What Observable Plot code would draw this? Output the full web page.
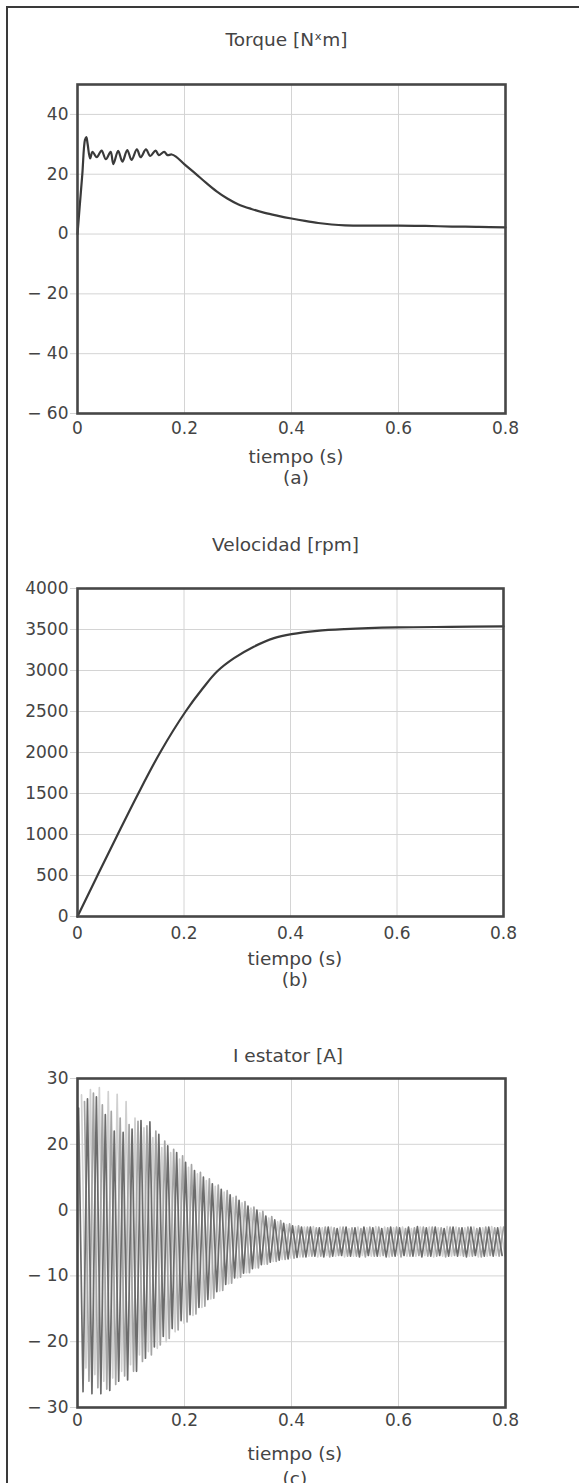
<!DOCTYPE html>
<html><head><meta charset="utf-8">
<script src="https://cdn.jsdelivr.net/npm/d3@7"></script>
<script src="https://cdn.jsdelivr.net/npm/@observablehq/plot@0.6"></script>
<style>
body{margin:0;background:#fff;width:579px;height:1483px;overflow:hidden;position:relative;font-family:"DejaVu Sans",sans-serif;}
#border{position:absolute;left:6px;top:6px;width:700px;height:1700px;border:2px solid #3a3a3a;box-sizing:border-box;}
.panel{position:absolute;left:0;}
</style></head><body>
<div id="border"></div>
<div id="pa" class="panel" style="top:0px"></div>
<div id="pb" class="panel" style="top:500px"></div>
<div id="pc" class="panel" style="top:980px"></div>
<script>
// ---------- data ----------
const xTicks = [0, 0.2, 0.4, 0.6, 0.8];
const xLabel = "tiempo (s)";

// (a) Torque
const torqueTitle = "Torque [Nˣm]";
const torqueTicks = [-60, -40, -20, 0, 20, 40];
const torqueT = [0, 0.004, 0.009, 0.014, 0.0165, 0.019, 0.0236, 0.028, 0.036, 0.045, 0.053, 0.062, 0.067, 0.076, 0.084, 0.093, 0.101, 0.111, 0.118, 0.128, 0.136, 0.146, 0.152, 0.162, 0.168, 0.176, 0.184, 0.2, 0.22, 0.24, 0.26, 0.28, 0.3, 0.325, 0.35, 0.375, 0.4, 0.425, 0.45, 0.475, 0.5, 0.55, 0.6, 0.65, 0.7, 0.75, 0.8];
const torqueV = [0, 9, 20, 31.5, 32.4, 30, 25.3, 27.5, 25.7, 27.9, 25, 27.5, 23.4, 27.8, 24.2, 28.1, 24.8, 28.3, 25.7, 28.3, 26.1, 27.9, 26.4, 27.5, 26.4, 26.6, 25.9, 23.3, 20.3, 17.2, 14.3, 11.9, 10.0, 8.4, 7.1, 6.1, 5.2, 4.4, 3.7, 3.2, 2.9, 2.8, 2.8, 2.7, 2.5, 2.4, 2.2];

// (b) Velocidad
const speedTitle = "Velocidad [rpm]";
const speedTicks = [0, 500, 1000, 1500, 2000, 2500, 3000, 3500, 4000];
const speedT = [0, 0.0375, 0.075, 0.1125, 0.156, 0.203, 0.235, 0.2625, 0.294, 0.331, 0.369, 0.402, 0.45, 0.502, 0.6, 0.7, 0.8];
const speedV = [0, 500, 995, 1480, 2010, 2500, 2780, 2990, 3150, 3290, 3395, 3444, 3484, 3505, 3525, 3532, 3537];

// (c) I estator — labels as printed on the axis (evenly spaced)
const currentTitle = "I estator [A]";
const currentTicks = [-30, -20, -10, 0, 20, 30];
const cyclePeriod = 1 / 60;
// dark trace: per-cycle maxima and minima
const iaMax = [25.5, 26.9, 27.2, 24.5, 22.0, 21.8, 22.3, 23.6, 23.4, 21.5, 19.5, 17.5, 14.5, 12.0, 10.0, 8.0, 6.3, 4.6, 3.0, 1.2, 0.0, -0.9, -1.5, -2.0, -2.4, -2.6, -2.6, -2.7, -2.6, -2.8, -2.6, -2.7, -2.6, -2.7, -2.8, -2.6, -2.7, -2.6, -2.5, -2.7, -2.6, -2.8, -2.6, -2.7, -2.6, -2.7, -2.6, -2.7];
const iaMin = [-27.6, -27.9, -27.9, -27.4, -26.0, -25.8, -24.5, -22.5, -20.8, -19.2, -18.0, -16.8, -15.9, -14.8, -13.6, -12.4, -11.3, -10.3, -9.6, -8.9, -8.3, -7.9, -7.6, -7.4, -7.2, -7.1, -7.0, -7.1, -7.0, -6.9, -7.0, -7.1, -6.9, -7.0, -7.1, -7.0, -6.9, -7.0, -7.1, -7.0, -6.9, -7.0, -7.0, -7.1, -6.9, -7.0, -7.0, -6.9];
// light trace
const ibMax = [27.5, 28.3, 28.6, 28.0, 27.6, 26.5, 24.0, 22.5, 21.0, 19.0, 17.5, 15.5, 13.0, 11.0, 9.0, 7.2, 5.5, 3.8, 2.2, 0.6, -0.4, -1.2, -1.8, -2.2, -2.5, -2.6, -2.5, -2.7, -2.6, -2.6, -2.8, -2.6, -2.7, -2.5, -2.6, -2.7, -2.6, -2.8, -2.6, -2.6, -2.7, -2.5, -2.6, -2.7, -2.6, -2.7, -2.5, -2.6];
const ibMin = [-24.0, -25.0, -26.0, -25.5, -24.5, -23.5, -22.0, -21.5, -21.0, -20.0, -18.5, -17.2, -16.0, -14.8, -13.5, -12.3, -11.2, -10.3, -9.5, -8.8, -8.2, -7.8, -7.5, -7.3, -7.1, -7.0, -7.1, -6.9, -7.0, -7.1, -7.0, -6.9, -7.0, -7.0, -7.1, -6.9, -7.0, -7.0, -6.9, -7.1, -7.0, -7.0, -6.9, -7.0, -7.1, -7.0, -6.9, -7.0];
// medium trace
const icMax = [26.5, 27.8, 26.0, 25.0, 24.0, 23.0, 23.5, 22.8, 22.0, 20.5, 18.5, 16.5, 13.8, 11.5, 9.5, 7.6, 5.9, 4.2, 2.6, 0.9, -0.2, -1.0, -1.6, -2.1, -2.4, -2.6, -2.7, -2.6, -2.7, -2.6, -2.7, -2.8, -2.6, -2.6, -2.7, -2.6, -2.8, -2.7, -2.6, -2.6, -2.7, -2.6, -2.7, -2.6, -2.8, -2.6, -2.7, -2.6];
const icMin = [-26.0, -27.0, -27.2, -26.5, -25.2, -24.5, -23.0, -22.0, -20.5, -19.5, -18.2, -17.0, -15.8, -14.6, -13.4, -12.2, -11.1, -10.2, -9.5, -8.8, -8.2, -7.8, -7.5, -7.3, -7.1, -7.0, -7.0, -7.1, -6.9, -7.0, -7.0, -7.1, -7.0, -6.9, -7.0, -7.1, -7.0, -6.9, -7.0, -7.0, -7.1, -6.9, -7.0, -7.0, -7.1, -6.9, -7.0, -7.0];
const iaStart = 0.002, ibStart = 0.0075, icStart = 0.0131;

// ---------- helpers ----------
const FONT = 17, LFONT = 18.5;
const fmtY = d => d < 0 ? "− " + Math.abs(d) : String(d);
const fmtX = d => d === 0 ? "0" : d.toFixed(1);
const TXT = "#444";
const GRID = "#d4d4d4";

function panel({height, mt, mb, ml, mr, y, yTicks, marks, title, sub, tdx, tdy, ldx, ldy, sdy, xpad}) {
  return Plot.plot({
    width: 579, height,
    marginTop: mt, marginBottom: mb, marginLeft: ml, marginRight: mr,
    style: {fontFamily: "DejaVu Sans", fontSize: FONT + "px", color: TXT, background: "transparent", overflow: "visible"},
    x: {domain: [0, 0.8]},
    y,
    marks: [
      Plot.gridX([0.2, 0.4, 0.6], {stroke: GRID, strokeOpacity: 1, strokeWidth: 1}),
      Plot.gridY(yTicks, {stroke: GRID, strokeOpacity: 1, strokeWidth: 1}),
      Plot.axisY(yTicks, {tickSize: 7, tickPadding: 2, stroke: GRID, strokeOpacity: 1, fill: TXT, tickFormat: fmtY, fontSize: FONT, label: null}),
      Plot.axisX(xTicks, {tickSize: 0, tickPadding: xpad, fill: TXT, tickFormat: fmtX, fontSize: FONT, label: null}),
      ...marks,
      Plot.frame({stroke: "#474747", strokeWidth: 2.6}),
      Plot.text([title], {frameAnchor: "top", lineAnchor: "middle", dx: tdx, dy: tdy, fill: TXT, fontSize: LFONT}),
      Plot.text([xLabel], {frameAnchor: "bottom", lineAnchor: "middle", dx: ldx, dy: ldy, fill: TXT, fontSize: LFONT}),
      Plot.text([sub], {frameAnchor: "bottom", lineAnchor: "middle", dx: ldx, dy: sdy, fill: TXT, fontSize: LFONT})
    ]
  });
}

// (a)
const torqueData = torqueT.map((t, i) => ({t, v: torqueV[i]}));
document.getElementById("pa").append(panel({
  height: 500, mt: 84, mb: 87, ml: 77, mr: 74,
  y: {domain: [-60, 50]}, yTicks: torqueTicks,
  marks: [Plot.line(torqueData, {x: "t", y: "v", stroke: "#3a3a3a", strokeWidth: 2.2, curve: "catmull-rom"})],
  title: torqueTitle, sub: "(a)", tdx: -5, tdy: -44.4, ldx: 4.5, ldy: 43.6, sdy: 64.6, xpad: 8
}));

// (b)
const speedData = speedT.map((t, i) => ({t, v: speedV[i]}));
document.getElementById("pb").append(panel({
  height: 480, mt: 88, mb: 64, ml: 77, mr: 76,
  y: {domain: [0, 4000]}, yTicks: speedTicks,
  marks: [Plot.line(speedData, {x: "t", y: "v", stroke: "#3a3a3a", strokeWidth: 2.2, curve: "catmull-rom"})],
  title: speedTitle, sub: "(b)", tdx: -5, tdy: -43.4, ldx: 4.4, ldy: 42.6, sdy: 63.6, xpad: 10
}));

// (c)
function zigzag(start, maxs, mins) {
  const out = [];
  maxs.forEach((m, k) => {
    const t = start + k * cyclePeriod;
    out.push({t, v: m});
    const t2 = t + cyclePeriod / 2;
    if (t2 <= 0.8) out.push({t: t2, v: mins[k]});
  });
  return out;
}
const ia = zigzag(iaStart, iaMax, iaMin);
const ib = zigzag(ibStart, ibMax, ibMin);
const ic = zigzag(icStart, icMax, icMin);
// the printed axis labels are evenly spaced although their values are not:
// map each printed value to its evenly spaced position (piecewise linear)
const tickIndex = d3.scaleLinear().domain(currentTicks).range(currentTicks.map((_, i) => i));
document.getElementById("pc").append(panel({
  height: 503, mt: 98, mb: 76, ml: 77, mr: 74,
  y: {transform: v => tickIndex(v), domain: [0, currentTicks.length - 1]}, yTicks: currentTicks,
  marks: [
    Plot.line(ib, {x: "t", y: "v", stroke: "#d0d0d0", strokeWidth: 1.7}),
    Plot.line(ic, {x: "t", y: "v", stroke: "#a4a4a4", strokeWidth: 1.7}),
    Plot.line(ia, {x: "t", y: "v", stroke: "#6c6c6c", strokeWidth: 1.7})
  ],
  title: currentTitle, sub: "(c)", tdx: -3.5, tdy: -22.4, ldx: 3.4, ldy: 47, sdy: 71.5, xpad: 6.5
}));
</script></body></html>
